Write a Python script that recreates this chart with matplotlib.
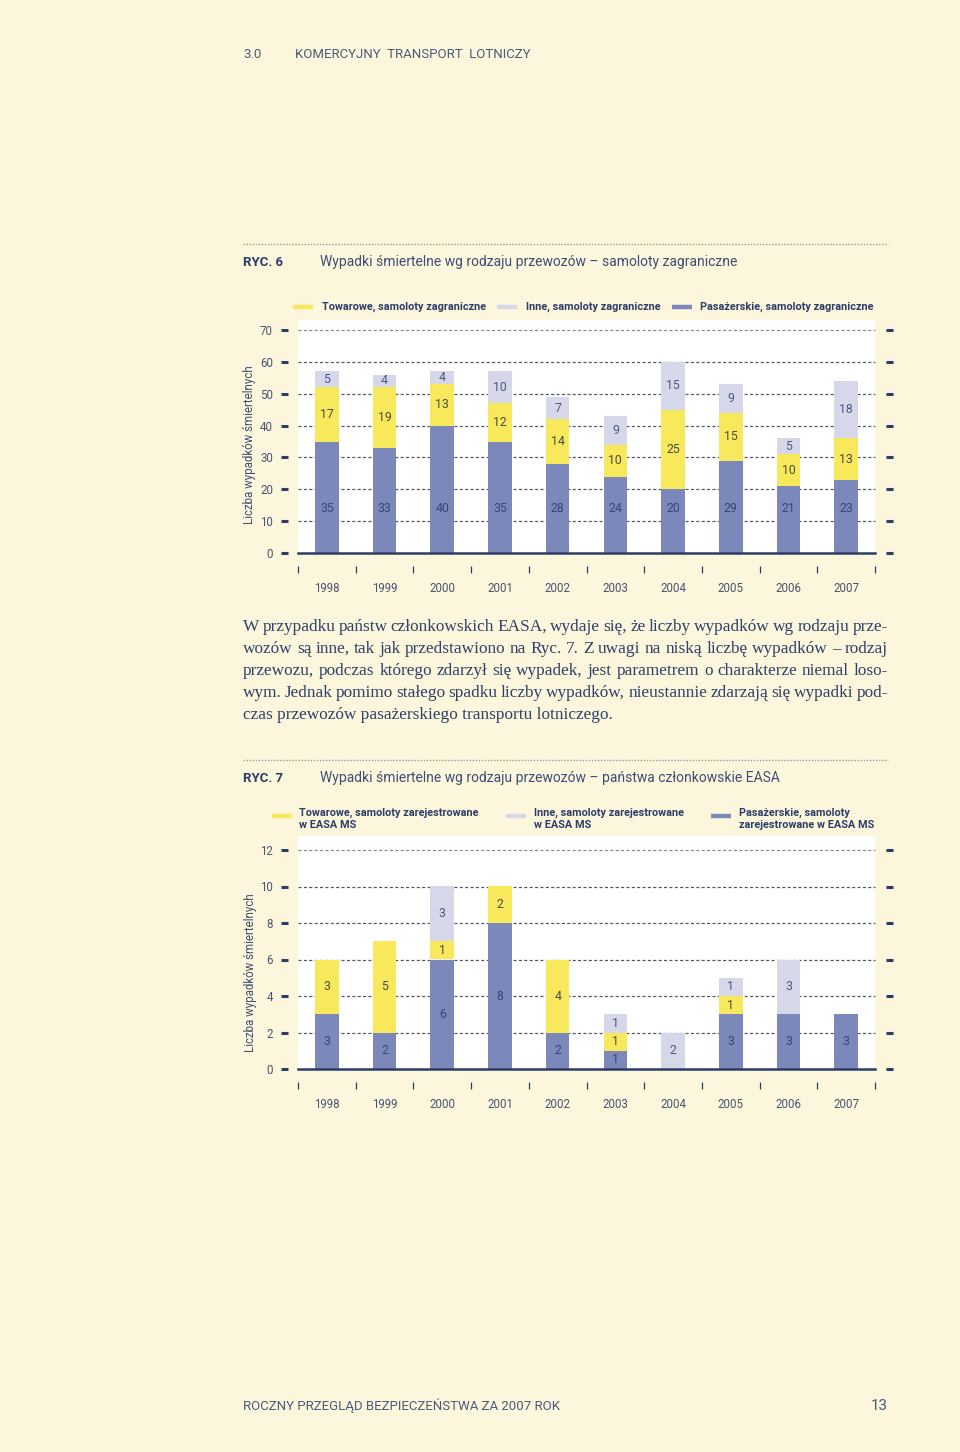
import matplotlib
matplotlib.use('Agg')
import matplotlib.pyplot as plt
import numpy as np

# ---------------- data ----------------
years = ['1998', '1999', '2000', '2001', '2002', '2003', '2004', '2005', '2006', '2007']

ryc6_passenger = [35, 33, 40, 35, 28, 24, 20, 29, 21, 23]
ryc6_cargo = [17, 19, 13, 12, 14, 10, 25, 15, 10, 13]
ryc6_other = [5, 4, 4, 10, 7, 9, 15, 9, 5, 18]
ryc6_yticks = [0, 10, 20, 30, 40, 50, 60, 70]

ryc7_passenger = [3, 2, 6, 8, 2, 1, 0, 3, 3, 3]
ryc7_cargo = [3, 5, 1, 2, 4, 1, 0, 1, 0, 0]
ryc7_other = [0, 0, 3, 0, 0, 1, 2, 1, 3, 0]
ryc7_yticks = [0, 2, 4, 6, 8, 10, 12]

ryc6_legend = ['Towarowe, samoloty zagraniczne', 'Inne, samoloty zagraniczne',
               'Pasażerskie, samoloty zagraniczne']
ryc7_legend = ['Towarowe, samoloty zarejestrowane\nw EASA MS',
               'Inne, samoloty zarejestrowane\nw EASA MS',
               'Pasażerskie, samoloty\nzarejestrowane w EASA MS']

body_lines = [
    "W przypadku państw członkowskich EASA, wydaje się, że liczby wypadków wg rodzaju prze-",
    "wozów są inne, tak jak przedstawiono na Ryc. 7. Z uwagi na niską liczbę wypadków – rodzaj",
    "przewozu, podczas którego zdarzył się wypadek, jest parametrem o charakterze niemal loso-",
    "wym. Jednak pomimo stałego spadku liczby wypadków, nieustannie zdarzają się wypadki pod-",
    "czas przewozów pasażerskiego transportu lotniczego.",
]

# ---------------- style ----------------
BG = '#FCF7DC'
BLUE = '#7B88B9'
YELLOW = '#F8E95C'
LAV = '#D6D8EA'
NAVY = '#2C3D68'
TXT = '#3D4E74'
SANS = ['Roboto', 'DejaVu Sans']
SERIF = ['Liberation Serif', 'DejaVu Serif']

W, H = 960, 1452
fig = plt.figure(figsize=(9.6, 14.52), dpi=100)
fig.patch.set_facecolor(BG)


def fx(x):
    return x / W


def fy(y):
    return 1 - y / H


def ftext(x, y, s, **kw):
    kw.setdefault('family', SANS)
    kw.setdefault('color', TXT)
    kw.setdefault('va', 'center')
    return fig.text(fx(x), fy(y), s, **kw)


def hline(x0, x1, y, **kw):
    fig.add_artist(plt.Line2D([fx(x0), fx(x1)], [fy(y), fy(y)], transform=fig.transFigure, **kw))


# ---------------- header / footer ----------------
ftext(243, 54, '3.0', fontsize=9.5, color='#4A5A7A')
ftext(295, 54, 'KOMERCYJNY  TRANSPORT  LOTNICZY', fontsize=9.5, color='#4A5A7A')
ftext(243, 1406, 'ROCZNY PRZEGLĄD BEZPIECZEŃSTWA ZA 2007 ROK', fontsize=9.5, color='#4A5A7A')
ftext(888, 1406, '13', fontsize=11, color='#4A5A7A', ha='right')


def chart(title_num, title, sep_y, legend_labels, legend_y, legend_xs,
          white_top, zero_y, top_y, yticks, passenger, cargo, other, two_line,
          pass_label_y=None):
    hline(243, 888, sep_y, color='#9A9A9A', lw=1.0, linestyle=(0, (1, 1.2)))
    ftext(243, sep_y + 18, title_num, fontsize=9.5, fontweight='bold', color=NAVY)
    ftext(320, sep_y + 18, title, fontsize=10, color=TXT)

    cols = [YELLOW, LAV, BLUE]
    for (sx, tx), lab, c in zip(legend_xs, legend_labels, cols):
        hline(sx, sx + 20, legend_y + (2 if two_line else 0), color=c, lw=3.2, solid_capstyle='butt')
        ftext(tx, legend_y + (5 if two_line else 0), lab, fontsize=7.8, fontweight='bold',
              color=NAVY, va='center', linespacing=1.25)

    ymax = yticks[-1]
    scale = (zero_y - top_y) / ymax
    ytop = (zero_y - white_top) / scale
    ax = fig.add_axes([fx(298), fy(zero_y), fx(875) - fx(298), (zero_y - white_top) / H])
    ax.set_facecolor('white')
    ax.set_xlim(-0.5, 9.5)
    ax.set_ylim(0, ytop)

    for v in yticks[1:]:
        col = '#8C8C8C' if v == ymax else '#555A6A'
        ax.axhline(v, color=col, lw=0.9, linestyle=(0, (2.5, 1.8)), zorder=1, clip_on=False)
    ax.axhline(0, color=NAVY, lw=1.8, zorder=5, clip_on=False)

    x = np.arange(len(years))
    p = np.array(passenger, dtype=float)
    c = np.array(cargo, dtype=float)
    o = np.array(other, dtype=float)
    bw = 0.41
    ax.bar(x, p, bw, color=BLUE, zorder=3, linewidth=0)
    ax.bar(x, c, bw, bottom=p, color=YELLOW, zorder=3, linewidth=0)
    ax.bar(x, o, bw, bottom=p + c, color=LAV, zorder=3, linewidth=0)

    fs = 8.8
    for i in range(len(years)):
        if p[i] > 0:
            yy = pass_label_y if pass_label_y is not None else p[i] / 2
            ax.text(x[i], yy, str(int(p[i])), ha='center', va='center', fontsize=fs,
                    family=SANS, color='#34477A', zorder=6)
        if c[i] > 0:
            ax.text(x[i], p[i] + c[i] / 2, str(int(c[i])), ha='center', va='center', fontsize=fs,
                    family=SANS, color='#4A4A3C', zorder=6)
        if o[i] > 0:
            ax.text(x[i], p[i] + c[i] + o[i] / 2, str(int(o[i])), ha='center', va='center',
                    fontsize=fs, family=SANS, color='#4A5882', zorder=6)

    for s in ax.spines.values():
        s.set_visible(False)
    ax.spines['left'].set_position(('outward', 7))
    ax.spines['right'].set_position(('outward', 8))
    ax.spines['bottom'].set_position(('outward', 9))

    ax.set_yticks(yticks)
    ax.set_yticklabels([str(v) for v in yticks], family=SANS)
    ax.tick_params(axis='y', which='major', left=True, right=True, length=5, width=2.2,
                   color=NAVY, direction='out', labelsize=8.3, labelcolor='#4A5270', pad=6)
    ax.set_xticks(x)
    ax.set_xticklabels(years, family=SANS)
    ax.set_xticks(np.arange(-0.5, 10, 1), minor=True)
    ax.tick_params(axis='x', which='major', length=0, labelsize=8.3, labelcolor='#4A5270', pad=12)
    ax.tick_params(axis='x', which='minor', length=5, width=0.9, color=NAVY, direction='out')

    ax.set_ylabel('Liczba wypadków śmiertelnych', family=SANS, fontsize=8.3, color=TXT)
    return ax


ax1 = chart('RYC. 6', 'Wypadki śmiertelne wg rodzaju przewozów – samoloty zagraniczne', 244,
            ryc6_legend, 307, [(293, 322), (497, 526), (672, 700)],
            320, 553, 330, ryc6_yticks, ryc6_passenger, ryc6_cargo, ryc6_other, False,
            pass_label_y=14)
ax1.yaxis.set_label_coords((256 - 298) / (875 - 298), (553 - 445) / (553 - 320))

ax2 = chart('RYC. 7', 'Wypadki śmiertelne wg rodzaju przewozów – państwa członkowskie EASA', 760,
            ryc7_legend, 814, [(272, 299), (506, 534), (711, 739)],
            836, 1069, 850, ryc7_yticks, ryc7_passenger, ryc7_cargo, ryc7_other, True)
ax2.yaxis.set_label_coords((257 - 298) / (875 - 298), (1069 - 973) / (1069 - 836))

# ---------------- justified body text ----------------
renderer = fig.canvas.get_renderer()
x0, x1 = 243, 888
line_y0, line_dy = 627, 22
BFS = 12.45
for li, line in enumerate(body_lines):
    y = line_y0 + li * line_dy
    words = line.split(' ')
    if li == len(body_lines) - 1:
        ftext(x0, y, line, family=SERIF, fontsize=BFS, color='#2E4068', va='center')
        continue
    arts = [ftext(x0, y, w, family=SERIF, fontsize=BFS, color='#2E4068', va='center') for w in words]
    widths = [a.get_window_extent(renderer).width for a in arts]
    gap = (x1 - x0 - sum(widths)) / (len(words) - 1)
    cx = x0
    for a, wdt in zip(arts, widths):
        a.set_x(fx(cx))
        cx += wdt + gap

fig.savefig('out.png', dpi=100, facecolor=BG)
